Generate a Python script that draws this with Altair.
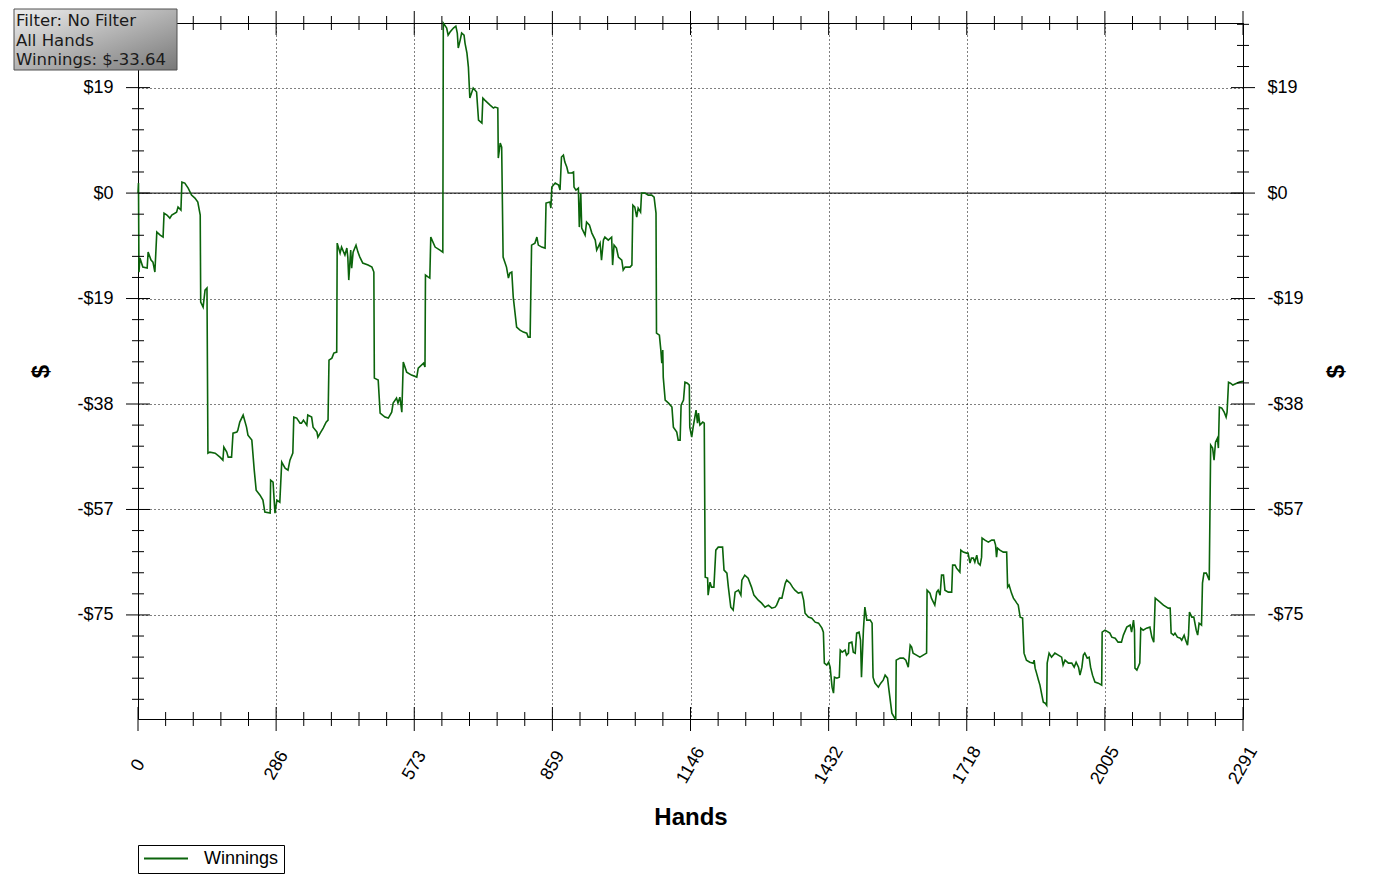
import altair as alt
import pandas as pd

# winnings trace (hand number / cumulative dollars)
hands = [
    0, 1, 2, 4, 10, 19, 21, 27, 31, 35,
    39, 46, 52, 54, 60, 66, 70, 80, 83, 89,
    91, 97, 104, 111, 118, 124, 129, 130, 135, 139,
    143, 145, 149, 160, 170, 176, 178, 184, 187, 194,
    197, 205, 207, 211, 218, 225, 228, 236, 241, 245,
    253, 259, 263, 274, 275, 280, 284, 288, 294, 298,
    305, 311, 315, 321, 323, 329, 336, 339, 343, 350,
    352, 360, 363, 371, 373, 379, 384, 390, 394, 396,
    402, 406, 412, 413, 419, 422, 429, 433, 435, 437,
    441, 443, 446, 452, 456, 460, 466, 477, 485, 489,
    490, 498, 502, 512, 519, 526, 529, 536, 539, 543,
    547, 550, 557, 567, 578, 581, 592, 595, 596, 602,
    605, 607, 616, 626, 632, 633, 640, 643, 647, 654,
    659, 662, 664, 668, 671, 676, 678, 682, 685, 688,
    695, 702, 706, 713, 715, 719, 730, 737, 740, 746,
    747, 751, 754, 757, 764, 768, 771, 775, 778, 785,
    792, 799, 806, 809, 813, 816, 823, 827, 830, 837,
    844, 846, 854, 856, 858, 865, 872, 875, 878, 882,
    885, 889, 892, 899, 903, 904, 908, 913, 915, 918,
    920, 927, 930, 936, 941, 948, 951, 958, 961, 965,
    968, 975, 982, 984, 987, 992, 996, 1003, 1006, 1010,
    1020, 1024, 1026, 1030, 1034, 1037, 1042, 1044, 1051, 1058,
    1065, 1070, 1074, 1075, 1081, 1084, 1086, 1088, 1089, 1093,
    1100, 1107, 1110, 1117, 1120, 1124, 1126, 1131, 1134, 1139,
    1143, 1144, 1148, 1151, 1157, 1160, 1162, 1165, 1171, 1174,
    1176, 1181, 1182, 1186, 1189, 1194, 1198, 1203, 1212, 1215,
    1221, 1224, 1229, 1234, 1238, 1245, 1250, 1252, 1258, 1265,
    1272, 1277, 1286, 1293, 1300, 1307, 1314, 1321, 1324, 1330,
    1335, 1342, 1345, 1352, 1357, 1362, 1369, 1376, 1380, 1383,
    1390, 1397, 1404, 1411, 1418, 1421, 1423, 1428, 1432, 1435,
    1439, 1442, 1444, 1449, 1454, 1456, 1460, 1466, 1469, 1473,
    1474, 1480, 1483, 1487, 1490, 1495, 1498, 1500, 1504, 1507,
    1511, 1518, 1522, 1524, 1528, 1535, 1540, 1545, 1549, 1554,
    1557, 1563, 1569, 1571, 1572, 1580, 1587, 1592, 1597, 1601,
    1604, 1607, 1614, 1621, 1628, 1635, 1636, 1642, 1645, 1652,
    1656, 1659, 1663, 1666, 1670, 1673, 1680, 1687, 1689, 1694,
    1697, 1704, 1706, 1711, 1718, 1721, 1725, 1728, 1732, 1735,
    1739, 1742, 1746, 1749, 1750, 1756, 1763, 1770, 1775, 1778,
    1780, 1782, 1787, 1794, 1801, 1803, 1806, 1811, 1815, 1818,
    1822, 1825, 1829, 1834, 1837, 1842, 1849, 1856, 1858, 1860,
    1863, 1867, 1870, 1874, 1877, 1881, 1884, 1885, 1889, 1894,
    1901, 1908, 1915, 1918, 1922, 1929, 1936, 1941, 1945, 1950,
    1953, 1957, 1960, 1963, 1968, 1972, 1975, 1979, 1984, 1991,
    1998, 1999, 2005, 2015, 2019, 2026, 2032, 2039, 2043, 2050,
    2057, 2060, 2064, 2066, 2067, 2071, 2077, 2079, 2084, 2091,
    2098, 2102, 2106, 2109, 2119, 2126, 2136, 2140, 2142, 2147,
    2150, 2155, 2161, 2164, 2169, 2172, 2176, 2178, 2180, 2185,
    2189, 2194, 2197, 2200, 2205, 2207, 2210, 2215, 2221, 2224,
    2228, 2231, 2234, 2238, 2240, 2242, 2247, 2252, 2256, 2258,
    2261, 2265, 2270, 2279, 2284, 2291,
]
winnings = [
    0.0, 1.79, -14.12, -11.62, -13.23, -13.41, -10.55, -11.98, -12.33, -14.12,
    -6.97, -7.51, -7.87, -3.58, -3.93, -4.47, -3.93, -3.40, -2.50, -3.04,
    1.97, 1.79, 0.89, -0.36, -0.89, -1.61, -3.93, -19.49, -20.38, -17.34,
    -16.98, -46.48, -46.30, -46.48, -47.19, -47.73, -45.41, -46.30, -47.19, -47.19,
    -42.90, -42.72, -42.37, -40.94, -39.68, -41.83, -43.26, -44.15, -49.52, -53.09,
    -53.99, -54.88, -57.02, -57.20, -51.30, -51.66, -57.20, -54.88, -55.24, -48.09,
    -49.16, -49.52, -47.73, -46.48, -40.04, -40.22, -41.11, -41.11, -40.58, -41.47,
    -39.68, -40.04, -41.83, -42.72, -43.62, -42.72, -42.01, -40.94, -40.58, -29.85,
    -29.50, -28.60, -28.42, -8.94, -10.73, -9.65, -11.08, -9.83, -11.44, -15.55,
    -10.19, -13.41, -10.55, -9.30, -10.55, -11.44, -12.51, -12.87, -13.23, -14.12,
    -33.07, -33.43, -39.33, -40.04, -40.22, -39.15, -37.54, -36.65, -37.54, -36.47,
    -39.15, -30.21, -32.00, -32.53, -32.89, -31.28, -30.39, -31.10, -14.66, -15.02,
    -15.19, -7.87, -9.65, -10.19, -10.55, 30.39, 29.50, 28.24, 28.78, 29.50,
    29.85, 28.60, 25.92, 27.35, 28.60, 28.24, 26.81, 25.03, 22.52, 16.98,
    18.77, 18.05, 13.05, 12.51, 16.98, 16.62, 15.73, 15.19, 15.37, 15.19,
    6.26, 8.94, 8.22, -11.44, -13.23, -15.19, -14.30, -14.12, -18.59, -23.95,
    -24.49, -24.85, -25.03, -25.74, -25.74, -9.30, -8.94, -7.87, -9.30, -9.65,
    -9.83, -1.79, -1.61, -2.68, 1.07, 1.79, 1.43, 0.54, 6.44, 6.79,
    5.54, 4.65, 3.58, 3.58, 3.75, 1.07, 0.54, 0.89, -6.08, 0.0,
    -6.26, -7.51, -5.18, -5.72, -7.15, -8.40, -10.19, -8.94, -11.98, -8.40,
    -7.87, -8.40, -7.87, -12.87, -9.30, -9.83, -11.44, -11.98, -13.76, -13.23,
    -13.23, -12.87, -2.15, -2.50, -4.29, -2.68, -3.40, 0.0, 0.0, -0.36,
    -0.36, -0.72, -3.58, -25.03, -25.38, -28.07, -30.39, -28.07, -32.89, -37.00,
    -37.54, -38.25, -41.83, -42.72, -44.15, -44.15, -37.90, -37.00, -33.79, -33.96,
    -34.32, -41.83, -43.62, -41.83, -38.79, -41.11, -39.33, -41.47, -40.94, -41.11,
    -68.64, -68.82, -71.86, -69.54, -70.43, -70.43, -63.82, -63.28, -63.28, -67.39,
    -67.93, -70.43, -74.01, -74.54, -71.33, -70.97, -71.86, -69.18, -68.29, -68.82,
    -70.43, -71.86, -72.76, -73.29, -74.01, -73.65, -74.19, -74.01, -73.65, -72.40,
    -72.40, -69.72, -69.18, -69.72, -70.43, -70.97, -71.50, -71.33, -72.76, -75.08,
    -75.79, -75.97, -76.69, -76.87, -77.76, -78.48, -84.02, -84.37, -83.84, -84.73,
    -88.31, -89.38, -86.52, -86.70, -86.52, -81.69, -82.05, -81.69, -82.59, -82.23,
    -80.44, -80.26, -82.05, -82.23, -78.65, -78.48, -79.90, -86.52, -78.12, -74.01,
    -76.33, -76.33, -76.87, -86.52, -87.59, -88.31, -87.59, -87.06, -86.16, -86.70,
    -88.84, -92.96, -93.85, -94.00, -83.48, -83.12, -83.12, -83.48, -84.73, -80.80,
    -81.16, -82.23, -82.59, -82.95, -82.59, -82.23, -70.97, -71.50, -72.40, -73.65,
    -71.33, -70.97, -71.86, -68.29, -68.29, -70.97, -71.33, -71.33, -66.50, -66.50,
    -67.04, -67.75, -63.82, -64.17, -64.35, -64.35, -66.14, -65.25, -65.25, -65.96,
    -64.71, -66.14, -66.50, -65.07, -61.67, -62.03, -62.39, -62.03, -62.03, -62.92,
    -65.07, -63.46, -63.82, -64.17, -64.17, -70.43, -70.07, -71.50, -72.40, -72.76,
    -73.29, -73.65, -75.79, -75.97, -82.23, -83.48, -83.84, -84.02, -83.48, -84.91,
    -85.80, -87.06, -87.95, -89.74, -90.99, -91.17, -91.53, -84.02, -82.23, -82.95,
    -82.23, -82.59, -82.95, -84.37, -83.48, -84.02, -84.02, -84.73, -83.84, -84.73,
    -86.16, -84.73, -82.59, -82.23, -83.12, -82.95, -84.73, -86.16, -87.41, -87.59,
    -87.95, -78.48, -78.12, -78.65, -79.37, -79.55, -80.26, -80.26, -79.01, -77.58,
    -77.22, -78.48, -76.33, -78.12, -84.91, -85.27, -84.02, -77.76, -78.12, -77.76,
    -77.58, -79.37, -80.26, -72.40, -73.11, -73.65, -74.19, -74.19, -78.65, -79.01,
    -78.65, -79.37, -79.55, -79.90, -79.01, -79.90, -80.80, -79.01, -74.90, -75.79,
    -75.79, -78.12, -79.01, -76.87, -77.22, -69.72, -67.93, -67.93, -69.18, -45.05,
    -45.58, -47.73, -44.51, -43.80, -45.58, -38.25, -38.43, -39.15, -40.04, -39.15,
    -33.79, -33.96, -34.32, -33.96, -33.79, -33.64,
]

x_major = [0, 286.375, 572.75, 859.125, 1145.5, 1431.875, 1718.25, 2004.625, 2291]
x_minor = [round(i * 2291 / 40, 3) for i in range(41) if i % 5]
y_major = [18.85, 0, -18.85, -37.7, -56.55, -75.4]
y_minor = [round(k * 3.77, 2) for k in range(-24, 9) if k % 5]
info_text = "Filter: No Filter\nAll Hands\nWinnings: $-33.64"

W, H = 1105, 696
FONT = "Liberation Sans"
GREEN = "#0b640b"

x_scale = alt.Scale(domain=[0, 2291], nice=False, zero=False)
y_scale = alt.Scale(domain=[-94.0, 30.4], nice=False, zero=False)

dollar = "datum.value >= 0 ? '$' + format(datum.value, '.0f') : '-$' + format(-datum.value, '.0f')"

df = pd.DataFrame({"hand": hands, "winnings": winnings, "series": "Winnings"})

zero = alt.Chart(pd.DataFrame({"v": [0]})).mark_rule(color="black", strokeWidth=1).encode(
    y=alt.Y("v:Q", scale=y_scale,
            axis=alt.Axis(orient="right", values=y_major, labelExpr=dollar, labelPadding=24,
                          labelFont=FONT, labelFontSize=18, labelColor="black", labelAlign="left",
                          labelBaseline="middle", labelOverlap=False, labelFlush=False,
                          ticks=False, tickSize=0, domain=False, grid=False,
                          title="$", titleFont=FONT, titleFontSize=24, titleFontWeight="bold",
                          titleColor="black", titleAngle=270, titleX=93, titleY=H / 2,
                          titleAlign="center", titleBaseline="middle"))
)

line = alt.Chart(df).mark_line(strokeWidth=1.6).encode(
    x=alt.X("hand:Q", scale=x_scale,
            axis=alt.Axis(orient="bottom", values=x_major, format=".0f", labelAngle=300,
                          labelAlign="center", labelBaseline="middle", labelPadding=46,
                          labelFont=FONT, labelFontSize=18, labelColor="black",
                          labelOverlap=False, labelFlush=False,
                          ticks=False, tickSize=0, domain=False,
                          grid=True, gridColor="black", gridDash=[1, 3], gridOpacity=1,
                          title="Hands", titleFont=FONT, titleFontSize=24, titleFontWeight="bold",
                          titleColor="black", titleX=W / 2, titleY=98,
                          titleAlign="center", titleBaseline="middle")),
    y=alt.Y("winnings:Q", scale=y_scale,
            axis=alt.Axis(orient="left", values=y_major, labelExpr=dollar, labelPadding=25,
                          labelFont=FONT, labelFontSize=18, labelColor="black", labelAlign="right",
                          labelBaseline="middle", labelOverlap=False, labelFlush=False,
                          ticks=False, tickSize=0, domain=False,
                          grid=True, gridColor="black", gridDash=[1, 3], gridOpacity=1,
                          title="$", titleFont=FONT, titleFontSize=24, titleFontWeight="bold",
                          titleColor="black", titleAngle=270, titleX=-97, titleY=H / 2,
                          titleAlign="center", titleBaseline="middle")),
    color=alt.Color("series:N", scale=alt.Scale(domain=["Winnings"], range=[GREEN]),
                    legend=alt.Legend(title=None, orient="none", legendX=0, legendY=822,
                                      symbolType="stroke", symbolSize=1936, symbolStrokeWidth=2,
                                      clipHeight=17, labelFont=FONT, labelFontSize=18,
                                      labelColor="black", labelOffset=15, padding=5,
                                      strokeColor="black", fillColor="white")),
)


def x_ticks(values, center, half):
    return alt.Chart(pd.DataFrame({"v": values})).mark_rule(color="black").encode(
        x=alt.X("v:Q", scale=x_scale, axis=None),
        y=alt.value(center - half), y2=alt.value(center + half))


def y_ticks(values, center, half):
    return alt.Chart(pd.DataFrame({"v": values})).mark_rule(color="black").encode(
        y=alt.Y("v:Q", scale=y_scale, axis=None),
        x=alt.value(center - half), x2=alt.value(center + half))


ticks = [
    x_ticks(x_minor, H, 7), x_ticks(x_major, H, 12),
    x_ticks(x_minor, 0, 7), x_ticks(x_major, 0, 12),
    y_ticks(y_minor, 0, 6), y_ticks(y_major, 0, 12),
    y_ticks(y_minor, W, 6), y_ticks(y_major, W, 12),
]

box = alt.Chart(pd.DataFrame({"t": [info_text]})).mark_rect(
    fill=alt.LinearGradient(gradient="linear",
                            stops=[alt.GradientStop(color="#eeeeee", offset=0),
                                   alt.GradientStop(color="#787878", offset=1)],
                            x1=0, y1=0, x2=1, y2=1),
    stroke="#505050", strokeWidth=1,
).encode(x=alt.value(-124), x2=alt.value(39), y=alt.value(-14), y2=alt.value(47))

info = alt.Chart(pd.DataFrame({"t": [info_text]})).mark_text(
    align="left", baseline="top", font="DejaVu Sans", fontSize=16.5, lineBreak="\n",
    lineHeight=19.5, color="#1a1a1a",
).encode(x=alt.value(-122), y=alt.value(-10), text="t:N")

chart = alt.layer(zero, line, *ticks, box, info).resolve_axis(
    x="independent", y="independent"
).properties(
    width=W, height=H,
    autosize=alt.AutoSizeParams(type="none"),
    padding={"left": 130, "top": 15, "right": 131, "bottom": 170},
    background="white",
).configure_view(stroke="black", strokeWidth=1)

chart.save("out.html", embed_options={"renderer": "svg", "actions": False})
